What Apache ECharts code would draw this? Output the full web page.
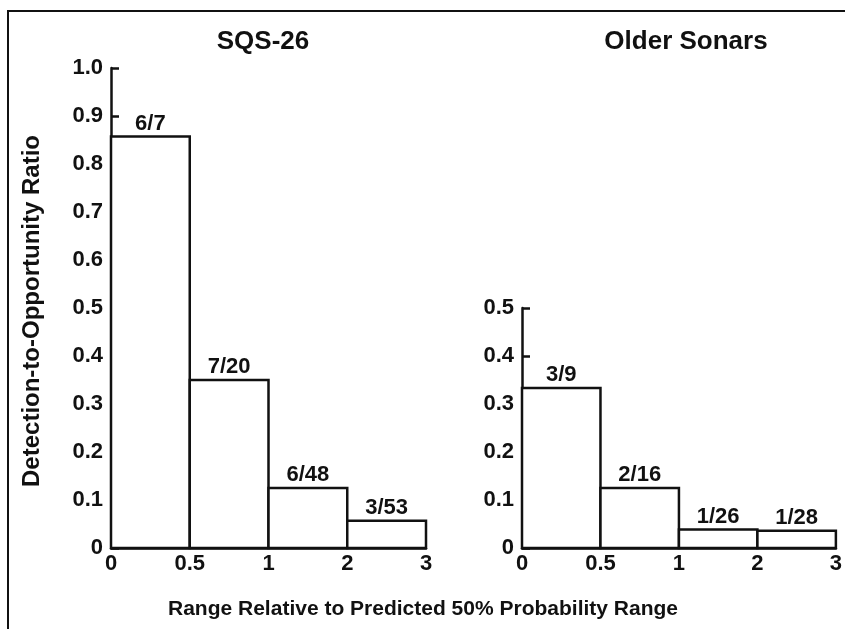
<!DOCTYPE html>
<html>
<head>
<meta charset="utf-8">
<script src="https://cdn.jsdelivr.net/npm/echarts@6/dist/echarts.min.js"></script>
<style>html,body{margin:0;padding:0;background:#fff;}#c{width:845px;height:629px;}</style>
</head>
<body>
<div id="c"></div>
<script>
const binLabels = ['0', '0.5', '1', '2', '3'];
const sqsValues = [6/7, 7/20, 6/48, 3/53];
const sqsLabels = ['6/7', '7/20', '6/48', '3/53'];
const olderValues = [3/9, 2/16, 1/26, 1/28];
const olderLabels = ['3/9', '2/16', '1/26', '1/28'];

const FONT = 'Liberation Sans';
const chart = echarts.init(document.getElementById('c'));

function makeData(vals, labs) {
  return vals.map((v, i) => [i, v, labs[i]]);
}
function renderItem(params, api) {
  const i = api.value(0), v = api.value(1);
  const p0 = api.coord([i, 0]);
  const p1 = api.coord([i + 1, v]);
  const lab = params.seriesIndex === 0 ? sqsLabels[params.dataIndex] : olderLabels[params.dataIndex];
  return {
    type: 'group',
    children: [
      { type: 'rect', shape: { x: p0[0], y: p1[1], width: p1[0] - p0[0], height: p0[1] - p1[1] },
        style: { fill: '#fff', stroke: '#111', lineWidth: 2.5 } },
      { type: 'text', x: (p0[0] + p1[0]) / 2, y: p1[1] - 2,
        style: { text: lab, fill: '#111', font: 'bold 22px "' + FONT + '"', align: 'center', verticalAlign: 'bottom' } }
    ]
  };
}
const axisLabelStyle = { color: '#111', fontFamily: FONT, fontWeight: 'bold', fontSize: 22 };
function yFmt(v) { return v === 0 ? '0' : v.toFixed(1); }

chart.setOption({
  animation: false,
  backgroundColor: '#fff',
  graphic: [
    { type: 'polyline', shape: { points: [[8, 629], [8, 11], [845, 11]] }, style: { stroke: '#111', lineWidth: 2, fill: null } },
    { type: 'text', x: 263, y: 42, style: { text: 'SQS-26', fill: '#111', font: 'bold 26px "' + FONT + '"', align: 'center', verticalAlign: 'middle' } },
    { type: 'text', x: 686, y: 42, style: { text: 'Older Sonars', fill: '#111', font: 'bold 26px "' + FONT + '"', align: 'center', verticalAlign: 'middle' } },
    { type: 'text', x: 423, y: 609, style: { text: 'Range Relative to Predicted 50% Probability Range', fill: '#111', font: 'bold 21px "' + FONT + '"', align: 'center', verticalAlign: 'middle' } },
    { type: 'text', x: 32, y: 311, rotation: Math.PI / 2, style: { text: 'Detection-to-Opportunity Ratio', fill: '#111', font: 'bold 24px "' + FONT + '"', align: 'center', verticalAlign: 'middle' } }
  ],
  grid: [
    { left: 111, top: 68, width: 315, height: 480 },
    { left: 522, top: 308, width: 316, height: 240 }
  ],
  xAxis: [0, 1].map(g => ({
    type: 'value', gridIndex: g, min: 0, max: 4, interval: 1,
    axisLine: { show: true, lineStyle: { color: '#111', width: 2.5 } },
    axisTick: { show: false }, splitLine: { show: false },
    axisLabel: Object.assign({ margin: 5, formatter: v => binLabels[v] }, axisLabelStyle)
  })),
  yAxis: [
    { type: 'value', gridIndex: 0, min: 0, max: 1, interval: 0.1 },
    { type: 'value', gridIndex: 1, min: 0, max: 0.5, interval: 0.1 }
  ].map(a => Object.assign(a, {
    axisLine: { show: true, lineStyle: { color: '#111', width: 2.5 } },
    axisTick: { show: true, inside: true, length: 8, lineStyle: { color: '#111', width: 2.5 } },
    splitLine: { show: false },
    axisLabel: Object.assign({ margin: 8, formatter: yFmt }, axisLabelStyle)
  })),
  series: [
    { type: 'custom', xAxisIndex: 0, yAxisIndex: 0, renderItem, data: makeData(sqsValues, sqsLabels) },
    { type: 'custom', xAxisIndex: 1, yAxisIndex: 1, renderItem, data: makeData(olderValues, olderLabels) }
  ]
});
</script>
</body>
</html>
